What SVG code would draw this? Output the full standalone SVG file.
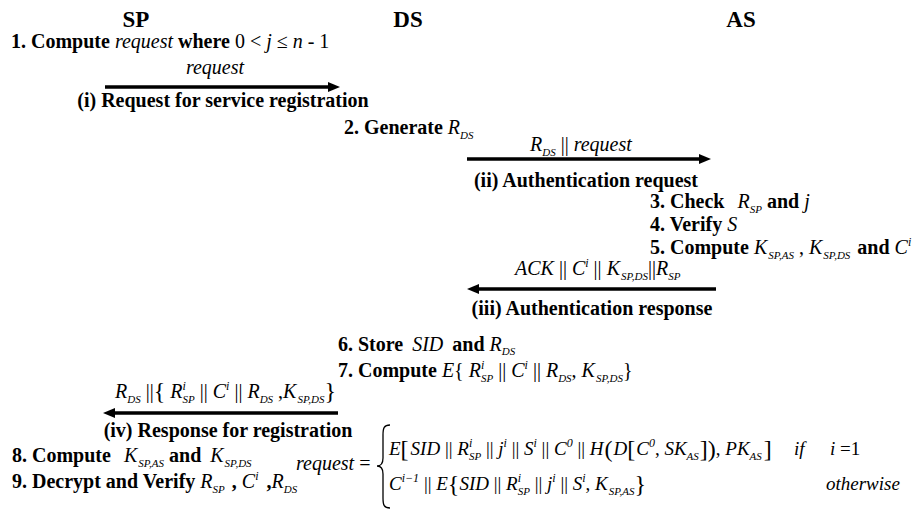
<svg xmlns="http://www.w3.org/2000/svg" width="916" height="510" viewBox="0 0 916 510">
<style>
text{font-family:"Liberation Serif","Times New Roman",serif;fill:#000}
.h{font-size:23px;font-weight:bold}
.t{font-size:20px;font-weight:bold}
.m{font-size:20px}
.f{font-size:19px}
.i{font-style:italic;font-weight:normal}
.n{font-weight:normal}
.sb{font-size:11px;font-style:italic;font-weight:normal}
.sp{font-size:12px;font-style:italic;font-weight:normal}
.big{font-size:24px;font-weight:normal;font-style:normal}
.arr{stroke:#000;stroke-width:3.5;fill:none}
.brace{stroke:#000;stroke-width:1.3;fill:none}
</style>
<defs>
<marker id="ah" viewBox="0 0 12 10" refX="2" refY="5" markerWidth="12" markerHeight="10" markerUnits="userSpaceOnUse" orient="auto"><path d="M0,0 L12,5 L0,10 z" fill="#000"/></marker>
</defs>
<rect width="916" height="510" fill="#fff"/>
<g id="SP"><text class="h" x="136" y="27" text-anchor="middle">SP</text></g>
<g id="DS"><text class="h" x="408" y="27" text-anchor="middle">DS</text></g>
<g id="AS"><text class="h" x="741" y="27" text-anchor="middle">AS</text></g>

<g id="steps">
<text class="t" x="11" y="48">1. Compute <tspan class="i">request</tspan> where <tspan class="n">0 &lt; </tspan><tspan class="i">j</tspan><tspan class="n"> ≤ </tspan><tspan class="i">n</tspan><tspan class="n"> - 1</tspan></text>
<text class="t" x="344" y="134">2. Generate <tspan class="i">R</tspan><tspan class="sb" dy="5">DS</tspan></text>
<text class="t" x="650" y="208">3. Check <tspan class="i" dx="8">R</tspan><tspan class="sb" dy="5">SP</tspan><tspan dy="-5"> and </tspan><tspan class="i">j</tspan></text>
<text class="t" x="650" y="231">4. Verify <tspan class="i">S</tspan></text>
<text class="t" x="650" y="254">5. Compute <tspan class="i">K</tspan><tspan class="sb" dy="5" dx="1">SP,AS</tspan><tspan class="n" dy="-5"> , </tspan><tspan class="i">K</tspan><tspan class="sb" dy="5" dx="1">SP,DS</tspan><tspan dy="-5" dx="7">and </tspan><tspan class="i">C</tspan><tspan class="sp" dy="-8">i</tspan></text>
<text class="t" x="338" y="351">6. Store <tspan class="i" dx="4">SID</tspan><tspan dx="4"> and </tspan><tspan class="i">R</tspan><tspan class="sb" dy="4">DS</tspan></text>
<text class="t" x="338" y="377">7. Compute <tspan class="i">E</tspan><tspan class="n">{</tspan><tspan class="i" dx="5">R</tspan><tspan class="sp" dy="-8">i</tspan><tspan class="sb" dx="-3.3" dy="13">SP</tspan><tspan class="n" dy="-5"> || </tspan><tspan class="i">C</tspan><tspan class="sp" dy="-8">i</tspan><tspan class="n" dy="8"> || </tspan><tspan class="i">R</tspan><tspan class="sb" dy="5">DS</tspan><tspan class="n" dy="-5">, </tspan><tspan class="i">K</tspan><tspan class="sb" dy="5" dx="1">SP,DS</tspan><tspan class="n" dy="-5">}</tspan></text>
<text class="t" x="12" y="462">8. Compute <tspan class="i" dx="8">K</tspan><tspan class="sb" dy="5" dx="1">SP,AS</tspan><tspan dy="-5" dx="5">and </tspan><tspan class="i" dx="4">K</tspan><tspan class="sb" dy="5" dx="1">SP,DS</tspan></text>
<text class="t" x="12" y="488">9. Decrypt and Verify <tspan class="i">R</tspan><tspan class="sb" dy="5">SP</tspan><tspan dy="-5" dx="7">, </tspan><tspan class="i">C</tspan><tspan class="sp" dy="-8">i</tspan><tspan dy="8" dx="8">,</tspan><tspan class="i">R</tspan><tspan class="sb" dy="5">DS</tspan></text>
</g>

<g id="connectors">
<line class="arr" x1="105" y1="87" x2="330" y2="87" marker-end="url(#ah)"/>
<line class="arr" x1="467" y1="159" x2="701" y2="159" marker-end="url(#ah)"/>
<line class="arr" x1="716" y1="289" x2="477" y2="289" marker-end="url(#ah)"/>
<line class="arr" x1="338" y1="413" x2="113" y2="413" marker-end="url(#ah)"/>
<text class="m i" x="215" y="74" text-anchor="middle">request</text>
<text class="t" x="223" y="107" text-anchor="middle">(i) Request for service registration</text>
<text class="m" x="530" y="151"><tspan class="i">R</tspan><tspan class="sb" dy="5">DS</tspan><tspan dy="-5"> || </tspan><tspan class="i">request</tspan></text>
<text class="t" x="586" y="187" text-anchor="middle">(ii) Authentication request</text>
<text class="m" x="515" y="275"><tspan class="i">ACK</tspan> || <tspan class="i">C</tspan><tspan class="sp" dy="-8">i</tspan><tspan dy="8"> || </tspan><tspan class="i">K</tspan><tspan class="sb" dy="5" dx="1">SP,DS</tspan><tspan dy="-5">||</tspan><tspan class="i">R</tspan><tspan class="sb" dy="5">SP</tspan></text>
<text class="t" x="592" y="315" text-anchor="middle">(iii) Authentication response</text>
<text class="m" x="115" y="398"><tspan class="i">R</tspan><tspan class="sb" dy="5">DS</tspan><tspan dy="-5"> ||</tspan><tspan class="big" dy="1">{</tspan><tspan class="i" dy="-1" dx="5">R</tspan><tspan class="sp" dy="-8">i</tspan><tspan class="sb" dx="-3.3" dy="13">SP</tspan><tspan dy="-5"> || </tspan><tspan class="i">C</tspan><tspan class="sp" dy="-8">i</tspan><tspan dy="8"> || </tspan><tspan class="i">R</tspan><tspan class="sb" dy="5">DS</tspan><tspan dy="-5"> ,</tspan><tspan class="i">K</tspan><tspan class="sb" dy="5" dx="1">SP,DS</tspan><tspan class="big" dy="-4">}</tspan></text>
<text class="t" x="228" y="437" text-anchor="middle">(iv) Response for registration</text>
</g>

<g id="formula">
<text class="m" x="296" y="470"><tspan class="i">request</tspan> =</text>
<path class="brace" d="M390,425 C384,425 383,428 383,435 L383,458 C383,463 381,466 377,466 C381,466 383,469 383,474 L383,498 C383,505 384,508 390,508"/>
<text class="f" x="389" y="455"><tspan class="i">E</tspan><tspan class="big" dy="2">[</tspan><tspan class="i" dy="-2" dx="2">SID</tspan> || <tspan class="i">R</tspan><tspan class="sp" dy="-8">i</tspan><tspan class="sb" dx="-3.3" dy="13">SP</tspan><tspan dy="-5"> || </tspan><tspan class="i">j</tspan><tspan class="sp" dy="-8">i</tspan><tspan dy="8"> || </tspan><tspan class="i">S</tspan><tspan class="sp" dy="-8">i</tspan><tspan dy="8"> || </tspan><tspan class="i">C</tspan><tspan class="sp" dy="-8">0</tspan><tspan dy="8"> || </tspan><tspan class="i">H</tspan><tspan class="big" dy="2" dx="1">(</tspan><tspan class="i" dy="-2" dx="1">D</tspan><tspan class="big" dy="2">[</tspan><tspan class="i" dy="-2" dx="1">C</tspan><tspan class="sp" dy="-8">0</tspan><tspan dy="8">, </tspan><tspan class="i">SK</tspan><tspan class="sb" dy="5">AS</tspan><tspan class="big" dy="-3" dx="1">]</tspan><tspan class="big">)</tspan><tspan dy="-2">, </tspan><tspan class="i">PK</tspan><tspan class="sb" dy="5">AS</tspan><tspan class="big" dy="-3" dx="2">]</tspan></text>
<text class="f i" x="794" y="455">if</text>
<text class="f" x="830" y="455"><tspan class="i">i</tspan> =1</text>
<text class="f" x="389" y="490"><tspan class="i">C</tspan><tspan class="sp" dy="-8">i−1</tspan><tspan dy="8"> || </tspan><tspan class="i">E</tspan><tspan class="big" dy="2">{</tspan><tspan class="i" dy="-2">SID</tspan> || <tspan class="i">R</tspan><tspan class="sp" dy="-8">i</tspan><tspan class="sb" dx="-3.3" dy="13">SP</tspan><tspan dy="-5"> || </tspan><tspan class="i">j</tspan><tspan class="sp" dy="-8">i</tspan><tspan dy="8"> || </tspan><tspan class="i">S</tspan><tspan class="sp" dy="-8">i</tspan><tspan dy="8">, </tspan><tspan class="i">K</tspan><tspan class="sb" dy="5" dx="1">SP,AS</tspan><tspan class="big" dy="-3">}</tspan></text>
<text class="f i" x="826" y="490">otherwise</text>
</g>
</svg>
